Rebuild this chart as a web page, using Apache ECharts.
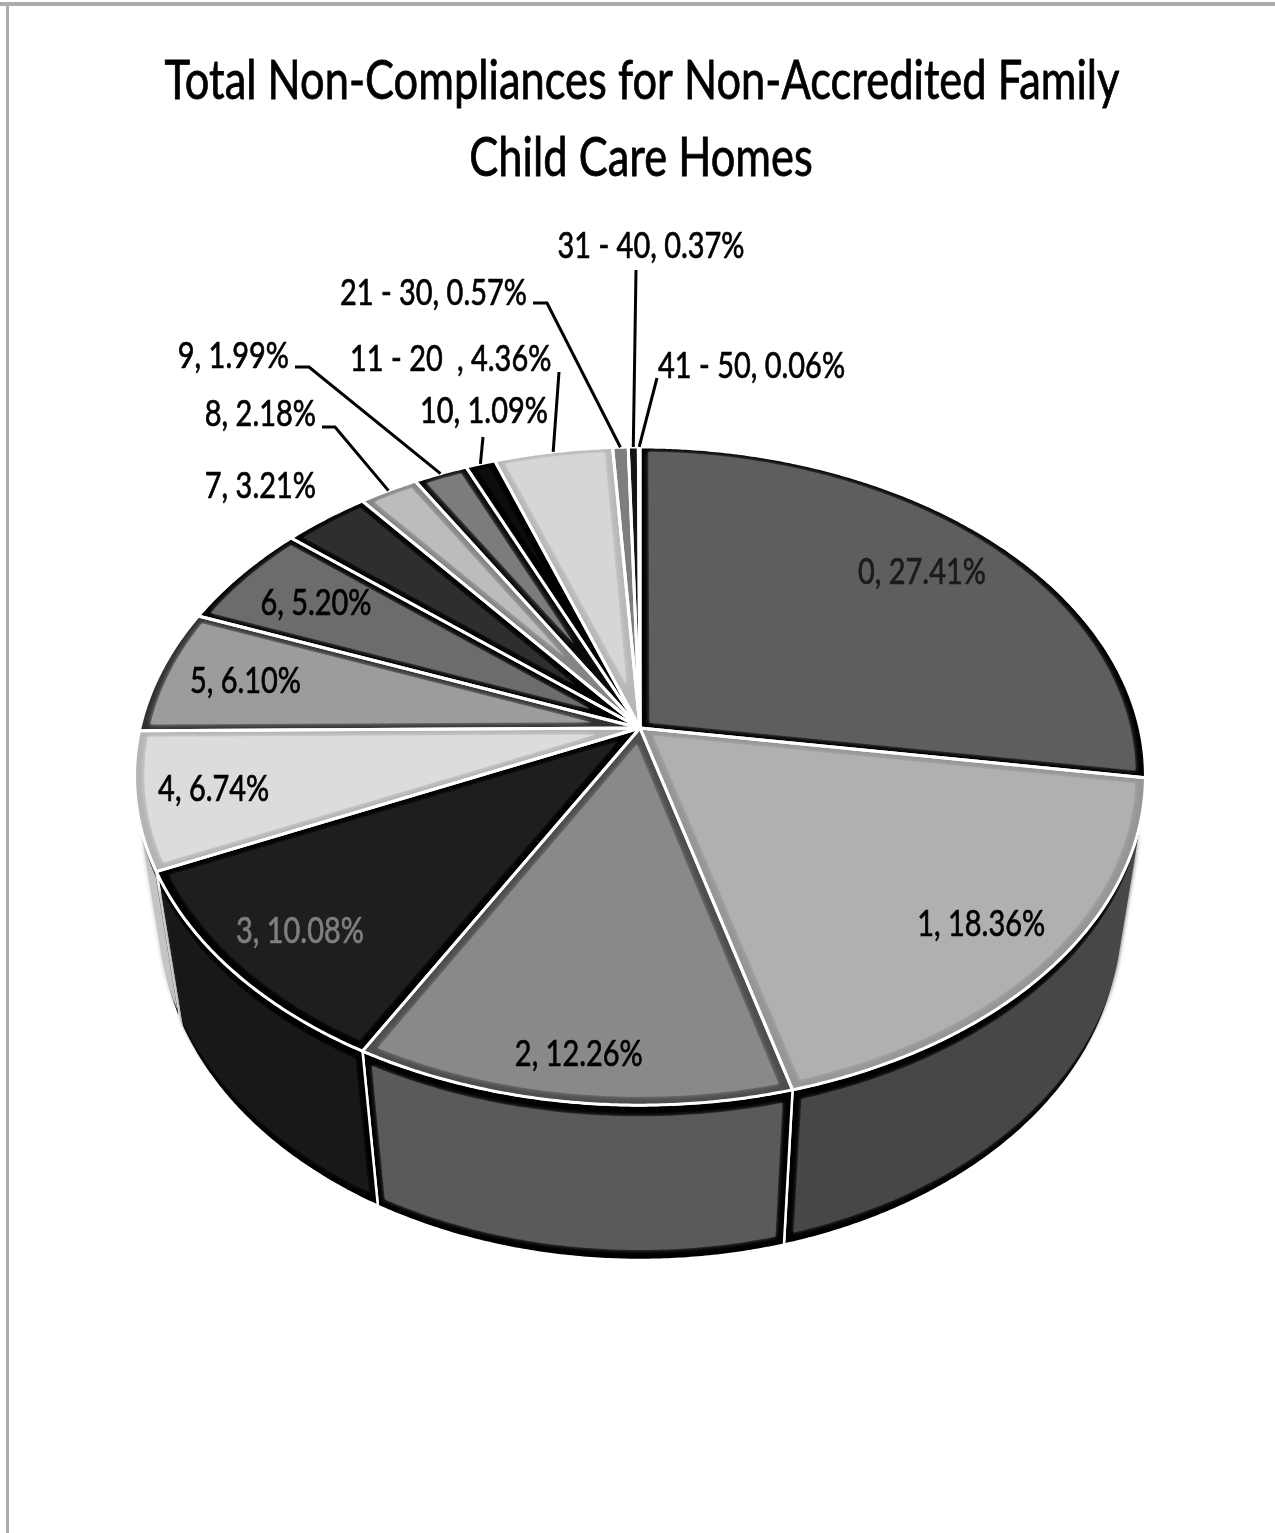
<!DOCTYPE html>
<html>
<head>
<meta charset="utf-8">
<title>Total Non-Compliances for Non-Accredited Family Child Care Homes</title>
<script src="https://cdn.jsdelivr.net/npm/echarts@6/dist/echarts.min.js"></script>
<style>
  html, body { margin: 0; padding: 0; background: #ffffff; }
  #chart { width: 1275px; height: 1533px; }
</style>
</head>
<body>
<div id="chart"></div>
<script>
// ---- data ----
const categories = ['0', '1', '2', '3', '4', '5', '6', '7', '8', '9', '10', '11 - 20', '21 - 30', '31 - 40', '41 - 50'];
const shares = [27.41, 18.36, 12.26, 10.08, 6.74, 6.10, 5.20, 3.21, 2.18, 1.99, 1.09, 4.36, 0.57, 0.37, 0.06];

// ---- styling per slice ----
const topColors  = ['#5e5e5e', '#b0b0b0', '#898989', '#1e1e1e', '#dcdcdc', '#9c9c9c', '#6c6c6c', '#2e2e2e', '#bcbcbc', '#7c7c7c', '#0d0d0d', '#d6d6d6', '#7e7e7e', '#141414', '#3c3c3c'];
const edgeColors = ['#000000', '#969696', '#4e4e4e', '#000000', '#b4b4b4', '#333333', '#000000', '#000000', '#858585', '#0a0a0a', '#000000', '#b8b8b8', '#444444', '#000000', '#000000'];
const sideColors = ['#3a3a3a', '#474747', '#5a5a5a', '#181818', '#c4c4c4', '#6a6a6a', '#404040', '#1a1a1a', '#7a7a7a', '#4a4a4a', '#080808', '#9a9a9a', '#555555', '#0a0a0a', '#222222'];
const labelColors = ['#1a1a1a', '#000000', '#000000', '#7f7f7f', '#000000', '#000000', '#000000'];

// ---- 3D pie geometry (radius = 1 unit) ----
const PIE = { cx: 640, cy: 728, tilt: 40.1 * Math.PI / 180, dist: 5.236, focal: 2618, depth: 0.417, bevel: 0.019 };
const FONT = 'Lato';
const LABEL_SIZE = 36;

// inside labels: fraction of the radius along the slice bisector
const insideFrac = { '0': 0.80, '1': 0.84, '2': 0.89, '3': 0.85, '4': 0.85, '5': 0.82, '6': 0.80 };
// outside labels: anchor point, alignment and leader-line bend points (px)
const outsideLabels = {
  '7':       { x: 316, y: 486, align: 'right' },
  '8':       { x: 316, y: 414, align: 'right', bends: [[322, 427], [335, 427]] },
  '9':       { x: 289, y: 356, align: 'right', bends: [[295, 367], [309, 367]] },
  '10':      { x: 484, y: 411, align: 'center', bends: [[483, 437]] },
  '11 - 20': { x: 350, y: 359, align: 'left', valueX: 457, bends: [[559, 372]] },
  '21 - 30': { x: 527, y: 293, align: 'right', bends: [[533, 303], [547, 303]] },
  '31 - 40': { x: 651, y: 246, align: 'center', bends: [[636, 270]] },
  '41 - 50': { x: 658, y: 366, align: 'left', bends: [[657, 378]] }
};

const total = shares.reduce((a, b) => a + b, 0);
const starts = [];
shares.reduce((acc, v, i) => { starts[i] = acc / total * Math.PI * 2; return acc + v; }, 0);

// horizontal text squeeze: title line measured against its rendered width
const measureCtx = document.createElement('canvas').getContext('2d');
measureCtx.font = '54px ' + FONT;
const TEXT_SCALE = 955 / measureCtx.measureText('Total Non-Compliances for Non-Accredited Family').width;

function project(X, Y, Z) {
  const ca = Math.cos(PIE.tilt), sa = Math.sin(PIE.tilt);
  const yr = Y * ca + Z * sa;
  const zr = Z * ca - Y * sa + PIE.dist;
  return [PIE.cx + PIE.focal * X / zr, PIE.cy - PIE.focal * yr / zr];
}
function rim(theta, r, Y) {
  return project(r * Math.sin(theta), Y, r * Math.cos(theta));
}
function arcPoints(t1, t2, r, Y) {
  const n = Math.max(2, Math.ceil(Math.abs(t2 - t1) / (0.4 * Math.PI / 180)));
  const pts = [];
  for (let k = 0; k <= n; k++) pts.push(rim(t1 + (t2 - t1) * k / n, r, Y));
  return pts;
}
// side wall faces the viewer where cos(theta) < -1 / (dist * cos(tilt))
const visCos = -1 / (PIE.dist * Math.cos(PIE.tilt));
const VIS_FROM = Math.acos(visCos);
const VIS_TO = Math.PI * 2 - VIS_FROM;

function textEl(x, y, text, align, color, glow) {
  return {
    type: 'text', x: x, y: y, scaleX: TEXT_SCALE, z2: 30,
    style: {
      text: text, fontSize: LABEL_SIZE, fontFamily: FONT, fill: color,
      stroke: color, lineWidth: 0.7,
      align: align, verticalAlign: 'middle',
      shadowBlur: glow ? 6 : 0, shadowColor: glow ? 'rgba(255,255,255,0.95)' : 'transparent'
    }
  };
}

function renderSlice(params, api) {
  const i = params.dataIndex;
  const value = api.value(1);
  const t1 = starts[i];
  const t2 = t1 + value / total * Math.PI * 2;
  const span = t2 - t1;
  const mid = (t1 + t2) / 2;
  const b = PIE.bevel, H = PIE.depth;
  const children = [];

  // outer wall
  const a = Math.max(t1, VIS_FROM), e = Math.min(t2, VIS_TO);
  if (e > a) {
    const wall = arcPoints(a, e, 1, 0).concat(arcPoints(e, a, 1, -H));
    children.push({ type: 'polygon', z2: 1, shape: { points: wall },
      style: { fill: '#000000', stroke: '#ffffff', lineWidth: 2.5, lineJoin: 'round' } });
    const a2 = a + (a === t1 ? b * 0.9 : 0), e2 = e - (e === t2 ? b * 0.9 : 0);
    if (e2 > a2) {
      const inner = arcPoints(a2, e2, 1, -b * 1.5).concat(arcPoints(e2, a2, 1, -H + b * 1.5));
      children.push({ type: 'polygon', z2: 2, shape: { points: inner },
        style: { fill: sideColors[i], shadowBlur: 4, shadowColor: sideColors[i] } });
    }
  }

  // top face
  const top = [project(0, 0, 0)].concat(arcPoints(t1, t2, 1, 0));
  const apexR = b / Math.sin(span / 2);
  const canInset = span < Math.PI && apexR < 1 - 3 * b;
  children.push({ type: 'polygon', z2: 10, shape: { points: top },
    style: { fill: canInset ? edgeColors[i] : topColors[i] } });
  if (canInset) {
    const beta = Math.asin(b / (1 - b));
    const inner = [rim(mid, apexR, 0)].concat(arcPoints(t1 + beta, t2 - beta, 1 - b, 0));
    children.push({ type: 'polygon', z2: 11, shape: { points: inner },
      style: { fill: topColors[i], shadowBlur: 5, shadowColor: topColors[i] } });
  }
  children.push({ type: 'polygon', z2: 12, shape: { points: top },
    style: { fill: 'none', stroke: '#ffffff', lineWidth: 3, lineJoin: 'round' } });

  // label
  const cat = categories[i];
  const pct = shares[i].toFixed(2) + '%';
  if (insideFrac[cat] !== undefined) {
    const p = rim(mid, insideFrac[cat], 0);
    const light = ['1', '2', '4', '5'].indexOf(cat) >= 0;
    children.push(textEl(p[0], p[1], cat + ', ' + pct, 'center', labelColors[i] || '#000', light));
  } else if (outsideLabels[cat]) {
    const L = outsideLabels[cat];
    if (L.valueX !== undefined) {
      children.push(textEl(L.x, L.y, cat, 'left', '#000', false));
      children.push(textEl(L.valueX, L.y, ', ' + pct, 'left', '#000', false));
    } else {
      children.push(textEl(L.x, L.y, cat + ', ' + pct, L.align, '#000', false));
    }
    if (L.bends) {
      const pts = L.bends.concat([rim(mid, 1, 0)]);
      children.push({ type: 'polyline', z2: 25, shape: { points: pts },
        style: { stroke: '#000000', lineWidth: 3, fill: 'none' } });
    }
  }
  return { type: 'group', children: children };
}

const titleStyle = { fontSize: 54, fontFamily: FONT, fill: '#000', stroke: '#000', lineWidth: 0.8,
  align: 'center', verticalAlign: 'middle', textAlign: 'center', textVerticalAlign: 'middle' };

const chart = echarts.init(document.getElementById('chart'), null, { renderer: 'canvas' });
chart.setOption({
  backgroundColor: '#ffffff',
  animation: false,
  graphic: [
    { type: 'line', z: 1, shape: { x1: 0, y1: 4, x2: 1275, y2: 4 }, style: { stroke: '#ababab', lineWidth: 4 } },
    { type: 'line', z: 1, shape: { x1: 7.5, y1: 2, x2: 7.5, y2: 1533 }, style: { stroke: '#ababab', lineWidth: 3 } },
    { type: 'text', z: 5, x: 642, y: 82, scaleX: TEXT_SCALE,
      style: Object.assign({ text: 'Total Non-Compliances for Non-Accredited Family' }, titleStyle) },
    { type: 'text', z: 5, x: 641, y: 159, scaleX: TEXT_SCALE,
      style: Object.assign({ text: 'Child Care Homes' }, titleStyle) }
  ],
  series: [{
    type: 'custom',
    coordinateSystem: 'none',
    renderItem: renderSlice,
    data: shares.map((v, i) => [i, v])
  }]
});
</script>
</body>
</html>
